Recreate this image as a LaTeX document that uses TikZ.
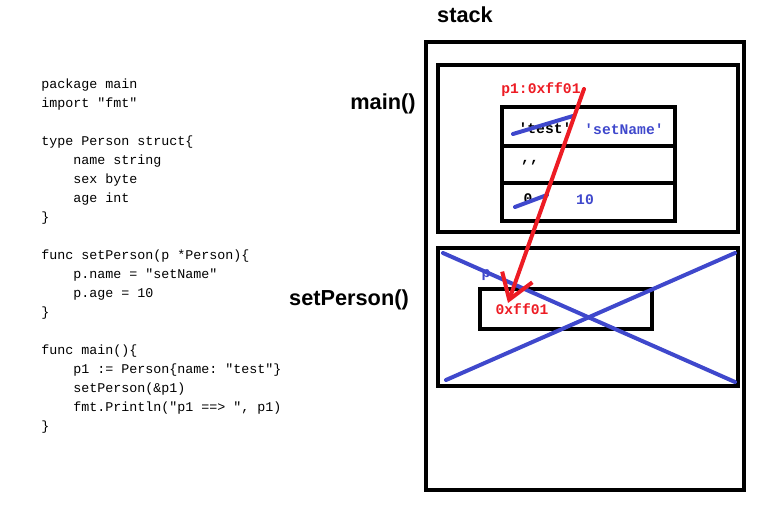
\documentclass[tikz,border=0pt]{standalone}
\usepackage{fontspec}
\setmainfont{Liberation Sans}
\setmonofont{Liberation Mono}
\setsansfont{Liberation Sans}
\usetikzlibrary{arrows.meta}
\definecolor{pred}{RGB}{237,28,36}
\definecolor{pblue}{RGB}{63,72,204}
\tikzset{
  box/.style={draw=black, line width=3pt},
  title/.style={font=\sffamily\bfseries\fontsize{16.3}{19}\selectfont, inner sep=0pt},
  code/.style={font=\ttfamily\fontsize{10}{14.25}\selectfont, align=left, inner sep=0pt, anchor=north west},
  val/.style={font=\ttfamily\bfseries\fontsize{11}{12}\selectfont, inner sep=0pt},
  strike/.style={draw=pblue, line width=3pt, line cap=round},
  redarrow/.style={draw=pred, line width=3pt, line cap=round, -{Straight Barb[length=18pt,width=24pt,line width=3pt]}}
}
\begin{document}
\begin{tikzpicture}[x=0.75pt,y=-0.75pt]
\useasboundingbox (0,0) rectangle (771,509);
% code
\node[code] (code) at (41,79) {package main\\
import "fmt"\\
\mbox{}\\
type Person struct\{\\
\hspace*{24pt}name string\\
\hspace*{24pt}sex byte\\
\hspace*{24pt}age int\\
\}\\
\mbox{}\\
func setPerson(p *Person)\{\\
\hspace*{24pt}p.name = "setName"\\
\hspace*{24pt}p.age = 10\\
\}\\
\mbox{}\\
func main()\{\\
\hspace*{24pt}p1 := Person\{name: "test"\}\\
\hspace*{24pt}setPerson(\&p1)\\
\hspace*{24pt}fmt.Println("p1 ==> ", p1)\\
\}};
% titles
\node[title] (stacklbl) at (465,15) {stack};
\node[title] (mainlbl) at (383,104) {main()};
\node[title] (setlbl) at (349,300) {setPerson()};
% boxes
\draw[box] (426,42) rectangle (744,490);
\draw[box] (438,65) rectangle (738,232);
\draw[box] (502,107) rectangle (675,221);
\draw[box] (502,146) -- (675,146);
\draw[box] (502,183) -- (675,183);
\draw[box] (438,248) rectangle (738,386);
\draw[box] (480,289) rectangle (652,329);
% table values
\node[val] (test) at (545,128) {'test'};
\node[val, text=pblue] (setname) at (624,129) {'setName'};
\node[val] (sex) at (530,163) {,,};
\node[val] (zero) at (528,199) {0};
\node[val, text=pblue] (ten) at (585,200) {10};
\draw[strike] (513,134) -- (573,116);
\draw[strike] (515,207) -- (547,195);
% setPerson cross
\draw[strike] (443,253) -- (735,382);
\draw[strike] (446,380) -- (735,253);
\node[val, text=pblue] (p) at (486,275) {p};
\node[val, text=pred] (ptr) at (522,309) {0xff01};
% p1 label & arrow
\node[val, text=pred] (p1) at (541,90) {p1:0xff01};
\coordinate (astart) at (584,89);
\coordinate (aend) at (508,303);
\draw[redarrow] (astart) -- (aend);
\end{tikzpicture}
\end{document}
